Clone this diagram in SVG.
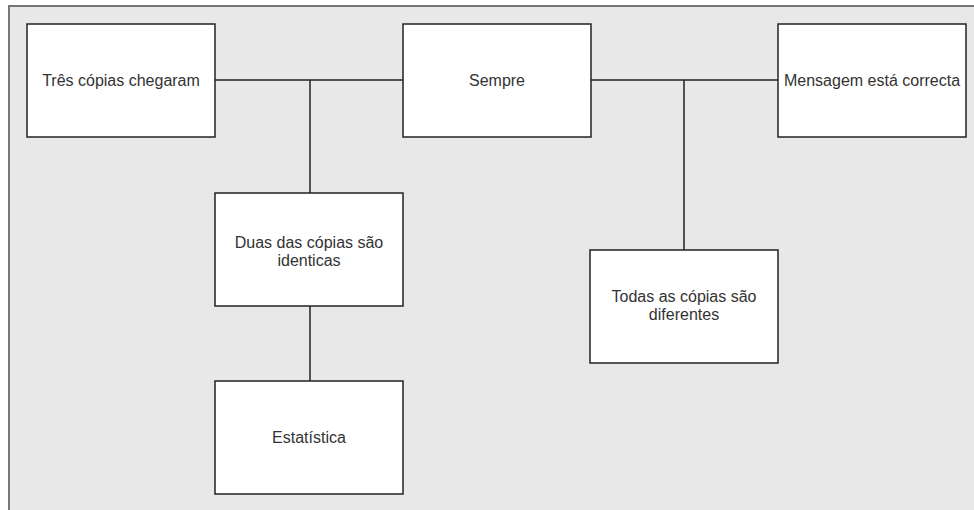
<svg xmlns="http://www.w3.org/2000/svg" width="974" height="510" viewBox="0 0 974 510">
<style>
.box{fill:#ffffff;stroke:#222222;stroke-width:1.5}
.lbl{font-family:"Liberation Sans",Arial,sans-serif;font-size:16px;fill:#333333;text-anchor:middle}
.con{stroke:#222222;stroke-width:1.5;fill:none}
</style>
<rect x="0" y="0" width="974" height="510" fill="#ffffff"/>
<rect x="9" y="6" width="966" height="506" fill="#e8e8e8"/>
<path d="M9,510 V6 H974" stroke="#777777" stroke-width="2" fill="none"/>
<g id="connectors">
<path class="con" d="M215,80 H403"/>
<path class="con" d="M591,80 H778"/>
<path class="con" d="M310,80 V193"/>
<path class="con" d="M310,306 V381"/>
<path class="con" d="M684,80 V250"/>
</g>
<g id="n1"><rect class="box" x="27" y="24" width="188" height="113"/><text class="lbl" x="121" y="86">Três cópias chegaram</text></g>
<g id="n2"><rect class="box" x="403" y="24" width="188" height="113"/><text class="lbl" x="497" y="86">Sempre</text></g>
<g id="n3"><rect class="box" x="778" y="24" width="188" height="113"/><text class="lbl" x="872" y="86">Mensagem está correcta</text></g>
<g id="n4"><rect class="box" x="215" y="193" width="188" height="113"/><text class="lbl" x="309" y="248">Duas das cópias são</text><text class="lbl" x="309" y="266">identicas</text></g>
<g id="n5"><rect class="box" x="215" y="381" width="188" height="113"/><text class="lbl" x="309" y="443">Estatística</text></g>
<g id="n6"><rect class="box" x="590" y="250" width="188" height="113"/><text class="lbl" x="684" y="302">Todas as cópias são</text><text class="lbl" x="684" y="320">diferentes</text></g>
</svg>
